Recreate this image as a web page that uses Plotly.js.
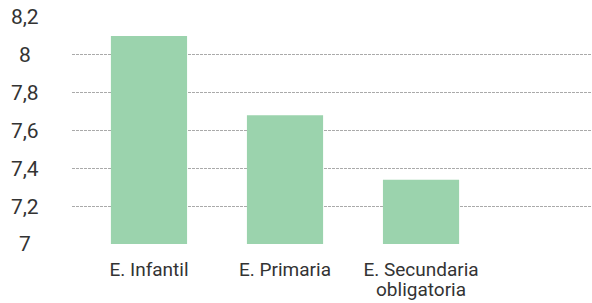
<!DOCTYPE html>
<html><head><meta charset="utf-8">
<script src="https://cdn.plot.ly/plotly-3.0.1.min.js"></script>
<style>html,body{margin:0;padding:0;background:#fff}#c{width:592px;height:303px}</style>
</head><body><div id="c"></div>
<script>
const categories = ["E. Infantil", "E. Primaria", "E. Secundaria<br>obligatoria"];
const values = [8.1, 7.68, 7.34];
const yTicks = [7, 7.2, 7.4, 7.6, 7.8, 8, 8.2];

const fontFam = '"Liberation Sans Narrow", "Roboto", "DejaVu Sans Condensed", sans-serif';
Plotly.newPlot('c', [{
  type: 'bar', x: [0, 1, 2], y: values, width: 0.56,
  marker: {color: 'rgb(155,211,173)'}, hoverinfo: 'none'
}], {
  width: 592, height: 303,
  margin: {l: 72, r: 0, t: 17, b: 59},
  separators: ',.',
  showlegend: false,
  paper_bgcolor: '#fff', plot_bgcolor: '#fff',
  font: {family: fontFam, color: '#333', size: 19},
  xaxis: {
    range: [-0.566, 3.257], tickvals: [0, 1, 2], ticktext: categories,
    showgrid: false, zeroline: false, showline: false,
    ticks: 'outside', ticklen: 8, tickcolor: 'rgba(0,0,0,0)',
    tickfont: {size: 19, color: '#333', family: fontFam}, fixedrange: true
  },
  yaxis: {
    range: [7, 8.2], tickvals: yTicks, showgrid: true,
    gridcolor: '#aaa', gridwidth: 1, griddash: '3px,1px',
    zeroline: false, showline: false,
    ticks: 'outside', ticklen: 28, tickcolor: 'rgba(0,0,0,0)',
    tickfont: {size: 21, color: '#333', family: fontFam}, fixedrange: true
  }
}, {staticPlot: true}).then(function(gd){
  gd.querySelectorAll('.xtick text tspan.line').forEach(function(t){
    if (t.getAttribute('dy') && t.getAttribute('dy') !== '0em') t.setAttribute('dy', '1.05em');
  });
  gd.querySelectorAll('.ytick text').forEach(function(t){
    const x = parseFloat(t.getAttribute('x'));
    t.setAttribute('text-anchor', 'middle');
    t.style.textAnchor = 'middle';
    t.setAttribute('x', x - 14);
  });
});
</script></body></html>
